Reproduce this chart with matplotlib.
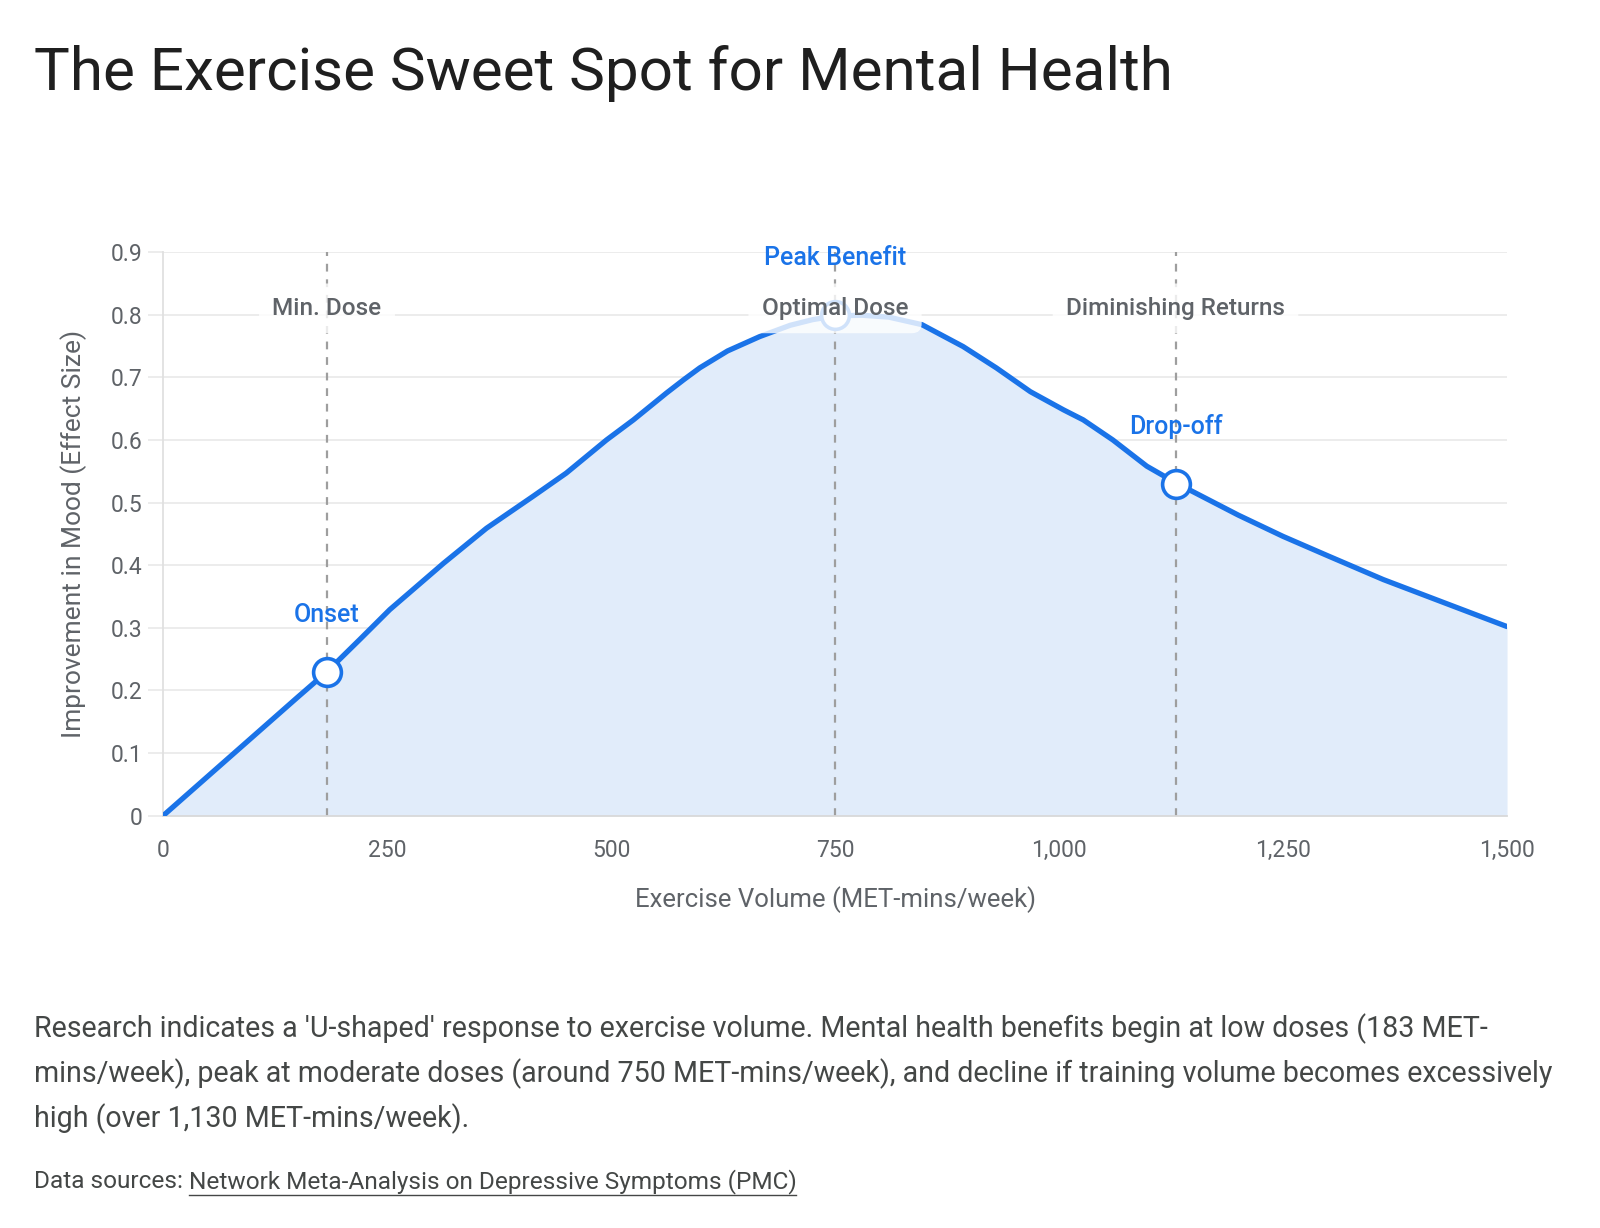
import matplotlib
matplotlib.use("Agg")
import matplotlib.pyplot as plt
from matplotlib.lines import Line2D
from matplotlib.ticker import FuncFormatter, MultipleLocator

plt.rcParams['font.family'] = ['Roboto', 'DejaVu Sans']

# Curve (MET-mins/week -> effect size)
volumen = [0, 50, 100, 150, 183, 220, 253, 313, 361, 413, 450, 495, 525, 562, 581,
           599, 630, 666, 700, 725, 751, 780, 810, 847, 893, 930, 968, 1005, 1027,
           1060, 1098, 1131, 1200, 1250, 1300, 1362, 1430, 1500]
efecto = [0, 0.063, 0.126, 0.189, 0.23, 0.282, 0.329, 0.403, 0.459, 0.510, 0.547,
          0.600, 0.632, 0.675, 0.696, 0.715, 0.742, 0.765, 0.783, 0.792, 0.798,
          0.799, 0.796, 0.784, 0.749, 0.715, 0.677, 0.648, 0.632, 0.600, 0.558,
          0.531, 0.48, 0.446, 0.415, 0.377, 0.34, 0.302]

# Key points
puntos_x = [183, 750, 1130]
puntos_y = [0.23, 0.80, 0.53]
puntos_txt = ["Onset", "Peak Benefit", "Drop-off"]

# Reference lines
lineas_x = [183, 750, 1130]
lineas_txt = ["Min. Dose", "Optimal Dose", "Diminishing Returns"]

azul = "#1a73e8"
gris_txt = "#5f6368"

fig = plt.figure(figsize=(16, 12.28), dpi=100)
ax = fig.add_axes([0.1019, 0.3357, 0.84, 0.4591])

ax.fill_between(volumen, efecto, 0, color="#e1ecfa", zorder=1, linewidth=0)
ax.plot(volumen, efecto, color=azul, linewidth=3.8, zorder=3,
        solid_capstyle="round", solid_joinstyle="round")

for xl, txt in zip(lineas_x, lineas_txt):
    ax.axvline(xl, color="#9e9e9e", linewidth=1.6, linestyle=(0, (3.5, 3.5)), zorder=2)
    ax.text(xl, 0.81, txt, ha="center", va="center", fontsize=17.5,
            fontweight="medium", color=gris_txt, zorder=6,
            bbox=dict(boxstyle="round,pad=0.55,rounding_size=0.4", fc="white",
                      ec="none", alpha=0.8))

ax.plot(puntos_x, puntos_y, linestyle="none", marker="o", markersize=20,
        markerfacecolor="white", markeredgecolor=azul, markeredgewidth=2.6, zorder=4)
for px, py, txt in zip(puntos_x, puntos_y, puntos_txt):
    ax.annotate(txt, (px, py), xytext=(0, 41), textcoords="offset points",
                ha="center", va="center", fontsize=18, fontweight="medium",
                color=azul, zorder=7)

ax.set_xlim(0, 1500)
ax.set_ylim(0, 0.9)
ax.xaxis.set_major_locator(MultipleLocator(250))
ax.yaxis.set_major_locator(MultipleLocator(0.1))
ax.xaxis.set_major_formatter(FuncFormatter(lambda v, p: f"{int(v):,}"))
ax.yaxis.set_major_formatter(FuncFormatter(lambda v, p: "0" if abs(v) < 1e-9 else f"{v:.1f}"))

ax.grid(axis="y", color="#ebebeb", linewidth=1.3, zorder=0)
ax.set_axisbelow(True)
for lado in ["top", "right"]:
    ax.spines[lado].set_visible(False)
ax.spines["left"].set_color("#e0e0e0")
ax.spines["bottom"].set_color("#d9d9d9")
ax.spines["left"].set_linewidth(1.3)
ax.spines["bottom"].set_linewidth(1.3)
ax.tick_params(axis="y", length=11, width=1.3, color="#ebebeb", labelsize=16.5,
               labelcolor=gris_txt, pad=4)
ax.tick_params(axis="x", length=0, labelsize=16.5, labelcolor=gris_txt, pad=17)

ax.set_xlabel("Exercise Volume (MET-mins/week)", fontsize=18.5, color=gris_txt, labelpad=17)
ax.set_ylabel("Improvement in Mood (Effect Size)", fontsize=19, color=gris_txt, labelpad=17)

fig.text(0.021, 1 - 89.8 / 1228, "The Exercise Sweet Spot for Mental Health", fontsize=43.3,
         color="#1f1f1f", ha="left", va="baseline")

desc = ["Research indicates a 'U-shaped' response to exercise volume. Mental health benefits begin at low doses (183 MET-",
        "mins/week), peak at moderate doses (around 750 MET-mins/week), and decline if training volume becomes excessively",
        "high (over 1,130 MET-mins/week)."]
for i, linea in enumerate(desc):
    fig.text(0.021, 1 - (1029 + 45 * i) / 1228, linea, fontsize=20.6,
             color="#444746", ha="left", va="center")

y_fuente = 1 - 1181.5 / 1228
t1 = fig.text(0.021, y_fuente, "Data sources: ", fontsize=17.6,
              color="#444746", ha="left", va="center")
fig.canvas.draw()
bb = t1.get_window_extent()
t2 = fig.text(bb.x1 / 1600, y_fuente,
              "Network Meta-Analysis on Depressive Symptoms (PMC)", fontsize=17.6,
              color="#444746", ha="left", va="center")
fig.canvas.draw()
bb2 = t2.get_window_extent()
yl = (bb2.y0 - 1) / 1228
fig.add_artist(Line2D([bb2.x0 / 1600, bb2.x1 / 1600], [yl, yl], color="#444746",
                      linewidth=1.0))

plt.savefig("out.png", dpi=100)
